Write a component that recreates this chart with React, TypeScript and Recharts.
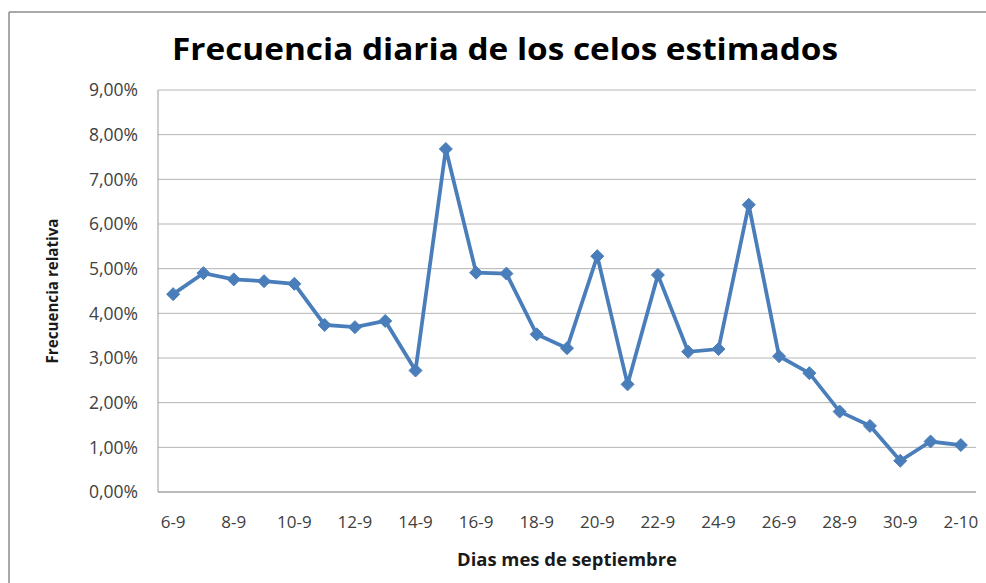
import React from "react";
import { LineChart, Line, XAxis, YAxis, CartesianGrid, Label } from "recharts";

const categories = [
  "6-9", "7-9", "8-9", "9-9", "10-9", "11-9", "12-9", "13-9", "14-9", "15-9",
  "16-9", "17-9", "18-9", "19-9", "20-9", "21-9", "22-9", "23-9", "24-9", "25-9",
  "26-9", "27-9", "28-9", "29-9", "30-9", "1-10", "2-10",
];
const frecuencia = [
  0.0443, 0.049, 0.0476, 0.0472, 0.0466, 0.0374, 0.0369, 0.0383, 0.0272, 0.0768,
  0.0491, 0.0489, 0.0353, 0.0322, 0.0528, 0.0241, 0.0486, 0.0314, 0.032, 0.0643,
  0.0304, 0.0266, 0.018, 0.0148, 0.007, 0.0113, 0.0105,
];
const yTicks = [0, 0.01, 0.02, 0.03, 0.04, 0.05, 0.06, 0.07, 0.08, 0.09];

const title = "Frecuencia diaria de los celos estimados";
const xTitle = "Dias mes de septiembre";
const yTitle = "Frecuencia relativa";

const data = categories.map((c, i) => ({ dia: c, valor: frecuencia[i] }));

const fmt = (v: number) => (v * 100).toFixed(2).replace(".", ",") + "%";

const BLUE = "#4A7EBB";
const FONT = "'Open Sans', 'Noto Sans', sans-serif";

const Diamond = (p: any) => {
  const { cx, cy, index } = p;
  const r = 6.5;
  return (
    <path
      key={`d-${index}`}
      d={`M${cx},${cy - r}L${cx + r},${cy}L${cx},${cy + r}L${cx - r},${cy}Z`}
      fill={BLUE}
      stroke={BLUE}
      strokeWidth={1}
    />
  );
};

export default function App() {
  return (
    <div
      style={{
        position: "absolute",
        left: 0,
        top: 0,
        width: 986,
        height: 583,
        background: "#ffffff",
        overflow: "hidden",
      }}
    >
      <LineChart
        width={986}
        height={583}
        data={data}
        margin={{ top: 90, right: 10, bottom: 0, left: 0 }}
      >
        <CartesianGrid vertical={false} stroke="#b4b4b4" strokeWidth={1} />
        <XAxis
          dataKey="dia"
          scale="band"
          interval={1}
          height={91}
          tickLine={false}
          tickSize={0}
          tickMargin={24}
          axisLine={{ stroke: "#9a9a9a" }}
          tick={{ fill: "#404040", fontSize: 17, fontFamily: FONT }}
        >
          <Label
            content={() => (
              <text
                x={567}
                y={559}
                textAnchor="middle"
                dominantBaseline="central"
                textLength={220}
                lengthAdjust="spacingAndGlyphs"
                style={{ fill: "#1a1a1a", fontSize: 17.5, fontWeight: 700, fontFamily: FONT }}
              >
                {xTitle}
              </text>
            )}
          />
        </XAxis>
        <YAxis
          width={158}
          domain={[0, 0.09]}
          ticks={yTicks}
          tickFormatter={fmt}
          tickLine={false}
          tickSize={0}
          tickMargin={20}
          axisLine={{ stroke: "#9a9a9a" }}
          tick={{ fill: "#404040", fontSize: 17.5, fontFamily: FONT }}
        >
          <Label
            content={() => (
              <text
                x={52}
                y={291}
                transform="rotate(-90 52 291)"
                textAnchor="middle"
                dominantBaseline="central"
                textLength={145}
                lengthAdjust="spacingAndGlyphs"
                style={{ fill: "#1a1a1a", fontSize: 16, fontWeight: 700, fontFamily: FONT }}
              >
                {yTitle}
              </text>
            )}
          />
        </YAxis>
        <Line
          type="linear"
          dataKey="valor"
          stroke={BLUE}
          strokeWidth={3.75}
          dot={Diamond}
          activeDot={false}
          isAnimationActive={false}
        />
      </LineChart>
      <svg
        width={986}
        height={583}
        style={{ position: "absolute", left: 0, top: 0, pointerEvents: "none" }}
      >
        <line x1={9} y1={12} x2={986} y2={12} stroke="#8c8c8c" strokeWidth={1.5} />
        <line x1={9} y1={12} x2={9} y2={583} stroke="#8c8c8c" strokeWidth={1.5} />
        <text
          x={505}
          y={48}
          textAnchor="middle"
          dominantBaseline="central"
          textLength={666}
          lengthAdjust="spacingAndGlyphs"
          style={{ fill: "#000000", fontSize: 30, fontWeight: 700, fontFamily: FONT }}
        >
          {title}
        </text>
      </svg>
    </div>
  );
}
